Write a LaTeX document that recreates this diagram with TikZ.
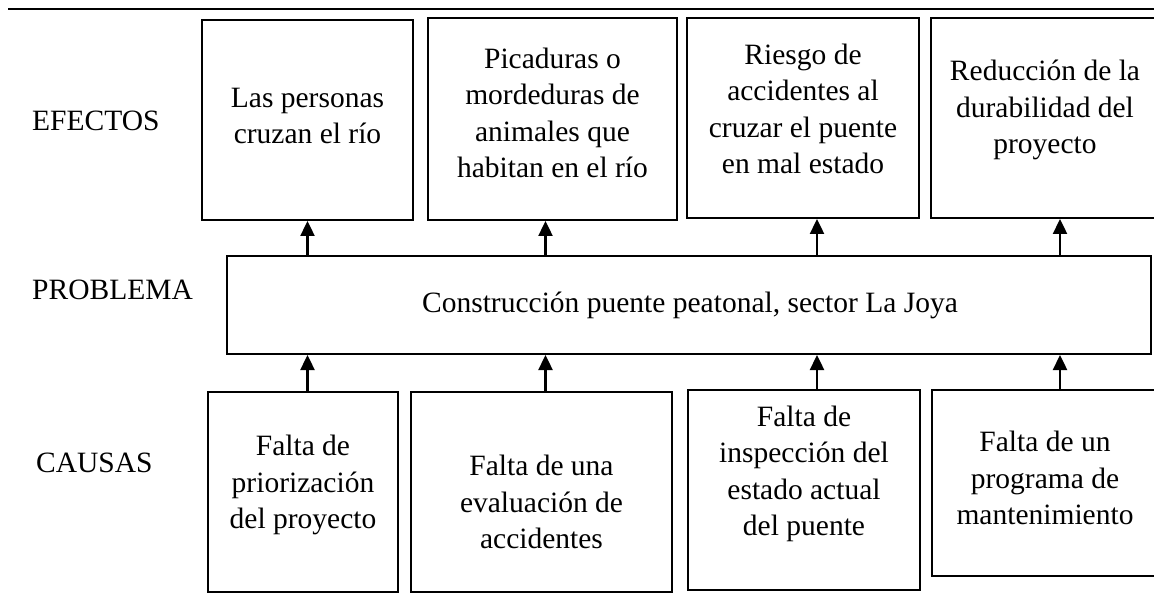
\documentclass[tikz,border=0pt]{standalone}
\usepackage{fontspec}
\setmainfont{Liberation Serif}
\usetikzlibrary{arrows.meta}
\begin{document}
\begin{tikzpicture}[x=1pt,y=-1pt,
  box/.style={draw, line width=2pt, inner sep=0pt, rectangle},
  txt/.style={align=center, font=\fontsize{29.5}{36.5}\selectfont, inner sep=0pt},
  lab/.style={anchor=west, font=\fontsize{29.5}{36.5}\selectfont, inner sep=0pt},
  arr/.style={line width=2.4pt, -{Triangle[width=14pt,length=15pt]}},
  rule/.style={line width=2pt}]
\path[use as bounding box] (0,0) rectangle (1154,596);
\clip (0,0) rectangle (1154,596);

% top rule
\coordinate (r0) at (8,9);
\coordinate (r1) at (1160,9);
\draw[rule] (r0) -- (r1);

% row labels
\node[lab] (lef) at (32,121) {EFECTOS};
\node[lab] (lpr) at (32,290) {PROBLEMA};
\node[lab] (lca) at (36,463) {CAUSAS};

% effect boxes
\node[box, minimum width=211pt, minimum height=200pt] (e1) at (307.5,120) {};
\node[box, minimum width=249pt, minimum height=202pt] (e2) at (552.5,119) {};
\node[box, minimum width=232pt, minimum height=200pt] (e3) at (803,118) {};
\node[box, minimum width=239pt, minimum height=200pt] (e4) at (1050.5,118) {};

\node[txt] (e1t) at (307.5,116) {Las personas\\cruzan el río};
\node[txt] (e2t) at (552.5,113) {Picaduras o\\mordeduras de\\animales que\\habitan en el río};
\node[txt] (e3t) at (803,109) {Riesgo de\\accidentes al\\cruzar el puente\\en mal estado};
\node[txt] (e4t) at (1045,110) {Reducción de la\\durabilidad del\\proyecto};

% problem box
\node[box, minimum width=924pt, minimum height=98pt] (prob) at (689,305) {};
\node[txt] (probt) at (690,305) {Construcción puente peatonal, sector La Joya};

% cause boxes
\node[box, minimum width=190pt, minimum height=200pt] (c1) at (303,492) {};
\node[box, minimum width=261pt, minimum height=200pt] (c2) at (541.5,492) {};
\node[box, minimum width=232pt, minimum height=200pt] (c3) at (804,490) {};
\node[box, minimum width=238pt, minimum height=186pt] (c4) at (1051,483) {};

\node[txt] (c1t) at (303,485) {Falta de\\priorización\\del proyecto};
\node[txt] (c2t) at (541.5,502) {Falta de una\\evaluación de\\accidentes};
\node[txt] (c3t) at (804,474) {Falta de\\inspección del\\estado actual\\del puente};
\node[txt] (c4t) at (1045,478) {Falta de un\\programa de\\mantenimiento};

% arrow x positions
\coordinate (a1) at (307.5,0);
\coordinate (a2) at (545.5,0);
\coordinate (a3) at (817,0);
\coordinate (a4) at (1060,0);

% arrows problem -> effects
\draw[arr] (prob.north -| a1) -- (e1.south -| a1);
\draw[arr] (prob.north -| a2) -- (e2.south -| a2);
\draw[arr] (prob.north -| a3) -- (e3.south -| a3);
\draw[arr] (prob.north -| a4) -- (e4.south -| a4);

% arrows causes -> problem
\draw[arr] (c1.north -| a1) -- (prob.south -| a1);
\draw[arr] (c2.north -| a2) -- (prob.south -| a2);
\draw[arr] (c3.north -| a3) -- (prob.south -| a3);
\draw[arr] (c4.north -| a4) -- (prob.south -| a4);
\end{tikzpicture}
\end{document}
